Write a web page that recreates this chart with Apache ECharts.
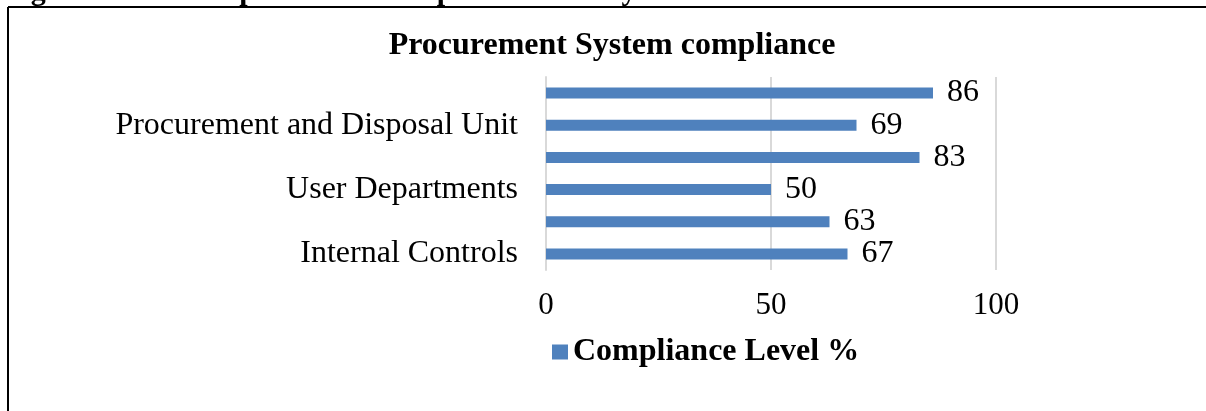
<!DOCTYPE html>
<html>
<head>
<meta charset="utf-8">
<script src="https://cdn.jsdelivr.net/npm/echarts@6/dist/echarts.min.js"></script>
<style>
html,body{margin:0;padding:0;background:#fff;}
#chart{width:1206px;height:411px;}
</style>
</head>
<body>
<div id="chart"></div>
<script>
// Categories bottom-to-top (only every other label is shown in the reference)
const categories = ["Internal Controls", "Evaluation Committee", "User Departments", "Contracts Committee", "Procurement and Disposal Unit", "Accounting Officer"];
const complianceLevel = [67, 63, 50, 83, 69, 86];
const xTicks = [0, 50, 100];
const seriesName = "Compliance Level %";
const chartTitle = "Procurement System compliance";
const caption = "Figure 4: The compliance level of procurement system";

const serif = '"Liberation Serif", "Times New Roman", serif';
const chart = echarts.init(document.getElementById('chart'), null, {renderer: 'canvas'});
chart.setOption({
  animation: false,
  backgroundColor: '#fff',
  title: {
    text: chartTitle,
    left: 607, textAlign: 'center', top: 25,
    textStyle: {fontFamily: serif, fontWeight: 'bold', fontSize: 32, color: '#000'}
  },
  legend: {
    data: [seriesName],
    left: 547, top: 331,
    icon: 'rect', itemWidth: 16, itemHeight: 15, itemGap: 4,
    textStyle: {fontFamily: serif, fontWeight: 'bold', fontSize: 32, color: '#000'}
  },
  grid: {left: 546, right: 210, top: 77, height: 193, containLabel: false},
  xAxis: {
    type: 'value', min: xTicks[0], max: xTicks[xTicks.length-1], interval: xTicks[1]-xTicks[0],
    axisLine: {show: false}, axisTick: {show: false},
    splitLine: {show: true, lineStyle: {color: '#d9d9d9', width: 2}},
    axisLabel: {margin: 20, fontFamily: serif, fontSize: 31, color: '#000'}
  },
  yAxis: {
    type: 'category', data: categories,
    axisLine: {show: true, lineStyle: {color: '#d9d9d9', width: 2}},
    axisTick: {show: false},
    axisLabel: {interval: 1, margin: 28, fontFamily: serif, fontSize: 32, color: '#000'}
  },
  series: [{
    name: seriesName, type: 'bar', data: complianceLevel,
    barWidth: 11,
    itemStyle: {color: '#4f81bd'},
    label: {show: true, position: 'right', distance: 14, fontFamily: serif, fontSize: 32, color: '#000'}
  }],
  graphic: [
    {type: 'text', left: 4, top: -23, style: {text: caption, font: 'bold 30px ' + serif, fill: '#000'}},
    {type: 'line', shape: {x1: 8, y1: 7, x2: 1206, y2: 7}, style: {stroke: '#000', lineWidth: 2}},
    {type: 'line', shape: {x1: 8, y1: 7, x2: 8, y2: 411}, style: {stroke: '#000', lineWidth: 2}}
  ]
});
</script>
</body>
</html>
